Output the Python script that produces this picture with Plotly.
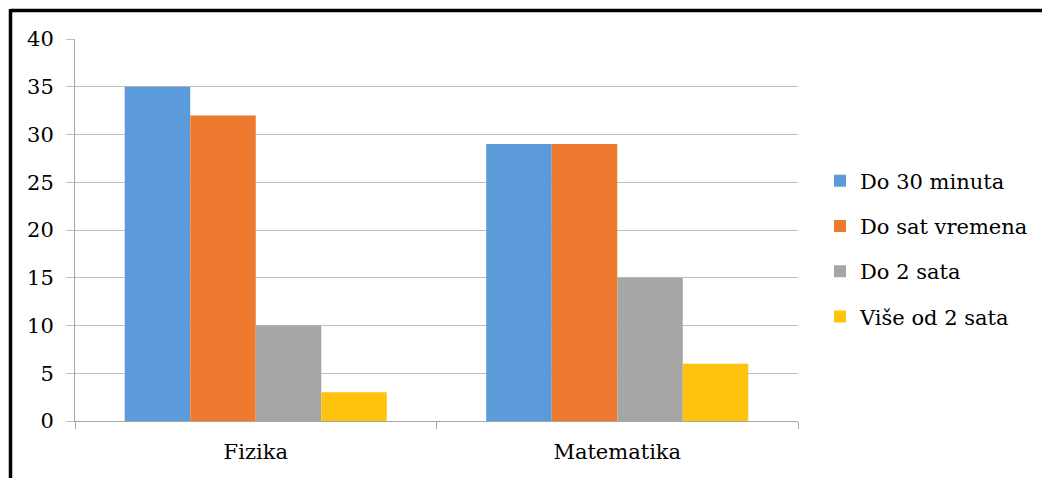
import plotly.graph_objects as go

# Subjects on the category axis
subjects = ["Fizika", "Matematika"]

# Time spent studying, one series per answer
series_names = ["Do 30 minuta", "Do sat vremena", "Do 2 sata", "Više od 2 sata"]
do_30_minuta = [35, 29]
do_sat_vremena = [32, 29]
do_2_sata = [10, 15]
vise_od_2_sata = [3, 6]

series_values = [do_30_minuta, do_sat_vremena, do_2_sata, vise_od_2_sata]
series_colors = ["#5B9BD9", "#EE7A30", "#A6A6A6", "#FFC20E"]

y_ticks = [0, 5, 10, 15, 20, 25, 30, 35, 40]

fig = go.Figure()
for name, vals, color in zip(series_names, series_values, series_colors):
    fig.add_trace(go.Bar(
        x=subjects,
        y=vals,
        name=name,
        legendgroup=name,
        marker=dict(color=color, line=dict(width=0)),
    ))

W, H = 1042, 478
L, R, T, B = 75, 244, 39, 57
pw, ph = W - L - R, H - T - B


def px_x(px):
    return (px - L) / pw


def px_y(py):
    return (H - B - py) / ph


font_family = "DejaVu Serif"
font_size = 21

fig.update_layout(
    width=W,
    height=H,
    margin=dict(l=L, r=R, t=T, b=B, pad=0, autoexpand=False),
    paper_bgcolor="white",
    plot_bgcolor="white",
    barmode="group",
    bargap=0.275,
    bargroupgap=0,
    font=dict(family=font_family, size=font_size, color="black"),
    showlegend=True,
    legend=dict(
        x=px_x(820),
        xanchor="left",
        y=px_y(249),
        yanchor="middle",
        font=dict(family=font_family, size=font_size, color="black"),
        tracegroupgap=15,
        itemwidth=30,
        bgcolor="rgba(0,0,0,0)",
    ),
    xaxis=dict(
        type="category",
        showgrid=False,
        showline=True,
        linecolor="#A6A6A6",
        linewidth=1,
        ticks="outside",
        tickson="boundaries",
        ticklen=7,
        tickcolor="#A6A6A6",
        ticklabelstandoff=12,
        tickfont=dict(family=font_family, size=font_size, color="black"),
        fixedrange=True,
    ),
    yaxis=dict(
        range=[0, 40],
        tickvals=y_ticks,
        showgrid=True,
        gridcolor="#BFBFBF",
        gridwidth=1,
        showline=True,
        linecolor="#A6A6A6",
        linewidth=1,
        ticks="outside",
        ticklen=8,
        tickcolor="#BFBFBF",
        ticklabelstandoff=8,
        zeroline=False,
        tickfont=dict(family=font_family, size=font_size, color="black"),
        fixedrange=True,
    ),
    shapes=[
        # heavy frame along the top and left edges
        dict(type="line", xref="paper", yref="paper",
             x0=px_x(10.5), x1=px_x(1046), y0=px_y(10.5), y1=px_y(10.5),
             line=dict(color="black", width=3.5)),
        dict(type="line", xref="paper", yref="paper",
             x0=px_x(10.5), x1=px_x(10.5), y0=px_y(9), y1=px_y(482),
             line=dict(color="black", width=3.5)),
    ],
)

fig.write_html("out.html")
